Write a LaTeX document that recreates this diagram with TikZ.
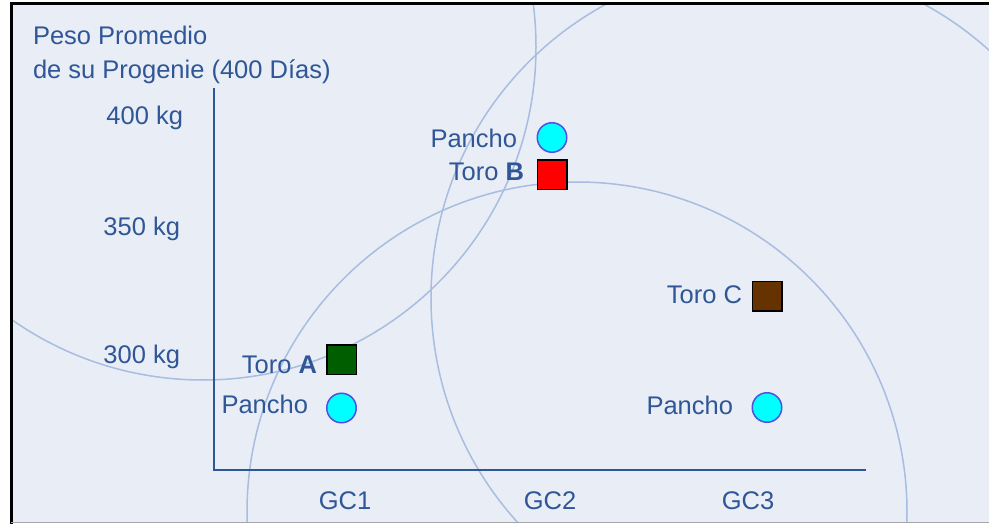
\documentclass[tikz,border=0pt]{standalone}
\usepackage{fontspec}
\setmainfont{Liberation Sans}
\definecolor{bgpanel}{RGB}{233,237,246}
\definecolor{axisblue}{RGB}{47,86,150}
\definecolor{ringblue}{RGB}{168,189,224}
\definecolor{greenA}{RGB}{0,94,0}
\definecolor{redB}{RGB}{255,0,0}
\definecolor{brownC}{RGB}{102,51,0}
\definecolor{panchofill}{RGB}{0,255,255}
\definecolor{panchoedge}{RGB}{80,80,225}

\begin{document}
\begin{tikzpicture}[x=1pt,y=-1pt,
    every node/.style={font=\fontsize{25.5}{30}\selectfont, text=axisblue, inner sep=0pt, outer sep=0pt},
    lbl/.style={anchor=base east},
    toro/.style={draw=black, line width=1.5pt, minimum size=31pt-\pgflinewidth},
    pancho/.style={circle, draw=panchoedge, fill=panchofill, line width=1.5pt, minimum size=31pt-\pgflinewidth},
    ring/.style={draw=ringblue, line width=1.5pt}]
    \useasboundingbox (0,0) rectangle (989,524);
    \fill[white] (0,0) rectangle (989,524);
    \fill[bgpanel] (11,4) rectangle (989,522);
    \begin{scope}
        \clip (11,4) rectangle (989,522);
        \draw[ring] (203,47) circle[radius=333pt];
        \draw[ring] (577,512) circle[radius=330pt];
        \draw[ring] (765,298) circle[radius=334pt];
    \end{scope}
    \draw[black, line width=3pt] (11,524) -- (11,4) -- (989,4);
    \draw[gray!70, line width=1.5pt] (11,522.5) -- (989,522.5);
    \coordinate (ytop) at (214,88);
    \coordinate (orig) at (214,470);
    \coordinate (xend) at (866,470);
    \draw[axisblue, line width=2.5pt] (ytop) -- (orig) -- (xend);
    \node[anchor=base west] (title1) at (33,45) {Peso Promedio};
    \node[anchor=base west] (title2) at (33,79) {de su Progenie (400 Días)};
    \node[lbl] (kg400) at (183,125) {400 kg};
    \node[lbl] (kg350) at (180,236) {350 kg};
    \node[lbl] (kg300) at (180,363) {300 kg};
    \node[anchor=base] (gc1) at (345,509) {GC1};
    \node[anchor=base] (gc2) at (550,509) {GC2};
    \node[anchor=base] (gc3) at (748,509) {GC3};
    \node[toro, fill=greenA] (toroA) at (341.5,359.5) {};
    \node[pancho] (panchoA) at (341.5,408) {};
    \node[pancho] (panchoB) at (552,137.5) {};
    \node[toro, fill=redB] (toroB) at (552,175) {};
    \node[toro, fill=brownC] (toroC) at (767,296) {};
    \node[pancho] (panchoC) at (767,407.5) {};
    \node[lbl] (labToroA) at (317,373) {Toro \textbf{A}};
    \node[lbl] (labPanchoA) at (308,413) {Pancho};
    \node[lbl] (labPanchoB) at (517,148) {Pancho};
    \node[lbl] (labToroB) at (524,181) {Toro \textbf{B}};
    \node[lbl] (labToroC) at (742,303) {Toro C};
    \node[lbl] (labPanchoC) at (733,414) {Pancho};
\end{tikzpicture}
\end{document}
